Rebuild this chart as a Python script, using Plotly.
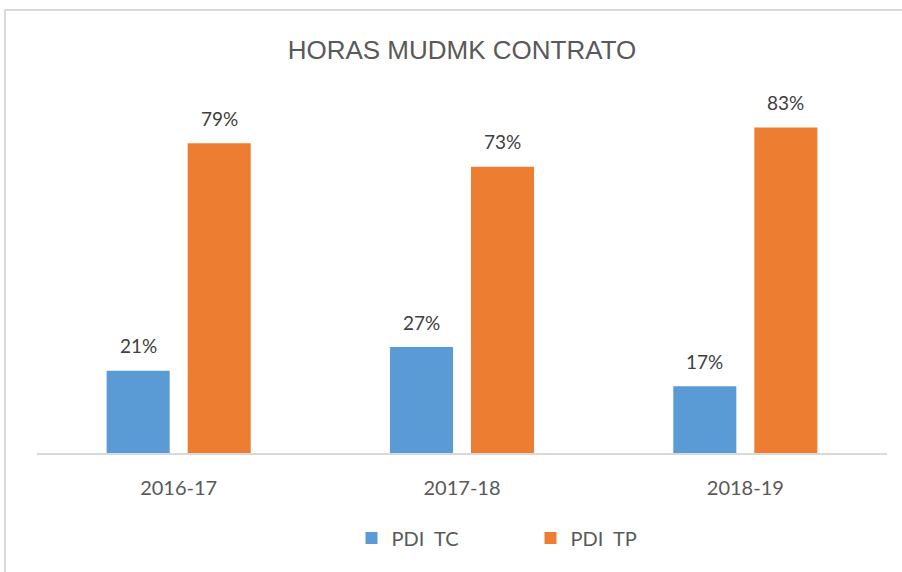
import plotly.graph_objects as go

categories = ["2016-17", "2017-18", "2018-19"]
pdi_tc = [21, 27, 17]
pdi_tp = [79, 73, 83]
series_names = ["PDI  TC", "PDI  TP"]
colors = ["#5B9BD5", "#ED7D31"]

fig = go.Figure()
for name, vals, col in zip(series_names, [pdi_tc, pdi_tp], colors):
    fig.add_trace(go.Bar(x=categories, y=vals, name=name, marker=dict(color=col, line=dict(width=0))))

# data labels
for vals, xs in [(pdi_tc, -40.5), (pdi_tp, 40.5)]:
    for c, v in zip(categories, vals):
        fig.add_annotation(x=c, y=v, text=f"{v}%", showarrow=False, xshift=xs, yshift=25,
                           font=dict(family="Lato, Open Sans, sans-serif", size=19, color="#404040"))

fig.add_shape(type="rect", xref="paper", yref="paper", x0=-0.0376, x1=1.1, y0=-0.5, y1=1.255,
              line=dict(color="#D9D9D9", width=2), fillcolor="rgba(0,0,0,0)", layer="below")

fig.update_layout(
    width=902, height=572,
    margin=dict(l=37, r=15, t=100, b=119),
    paper_bgcolor="white", plot_bgcolor="white",
    barmode="group", bargap=0.428, bargroupgap=0.222,
    title=dict(text="HORAS MUDMK CONTRATO", x=0.5, xref="paper", xanchor="center", y=1 - 50/572, yanchor="middle",
               font=dict(family="Liberation Sans Narrow, Arial Narrow, sans-serif", size=26, color="#595959")),
    xaxis=dict(showline=True, linecolor="#D9D9D9", linewidth=2, ticks="", showgrid=False,
               ticklabelstandoff=16,
               tickfont=dict(family="Lato, Open Sans, sans-serif", size=20, color="#595959")),
    yaxis=dict(range=[0, 90], visible=False, showgrid=False),
    legend=dict(orientation="h", x=0.37, xanchor="left", y=(453-538)/353, yanchor="middle",
                font=dict(family="Lato, Open Sans, sans-serif", size=20, color="#595959"),
                itemwidth=30, entrywidth=134, entrywidthmode="pixels", traceorder="normal"),
    showlegend=True,
)
fig.write_html("out.html", post_script="document.body.style.margin='0';",
               config={"displayModeBar": False})
